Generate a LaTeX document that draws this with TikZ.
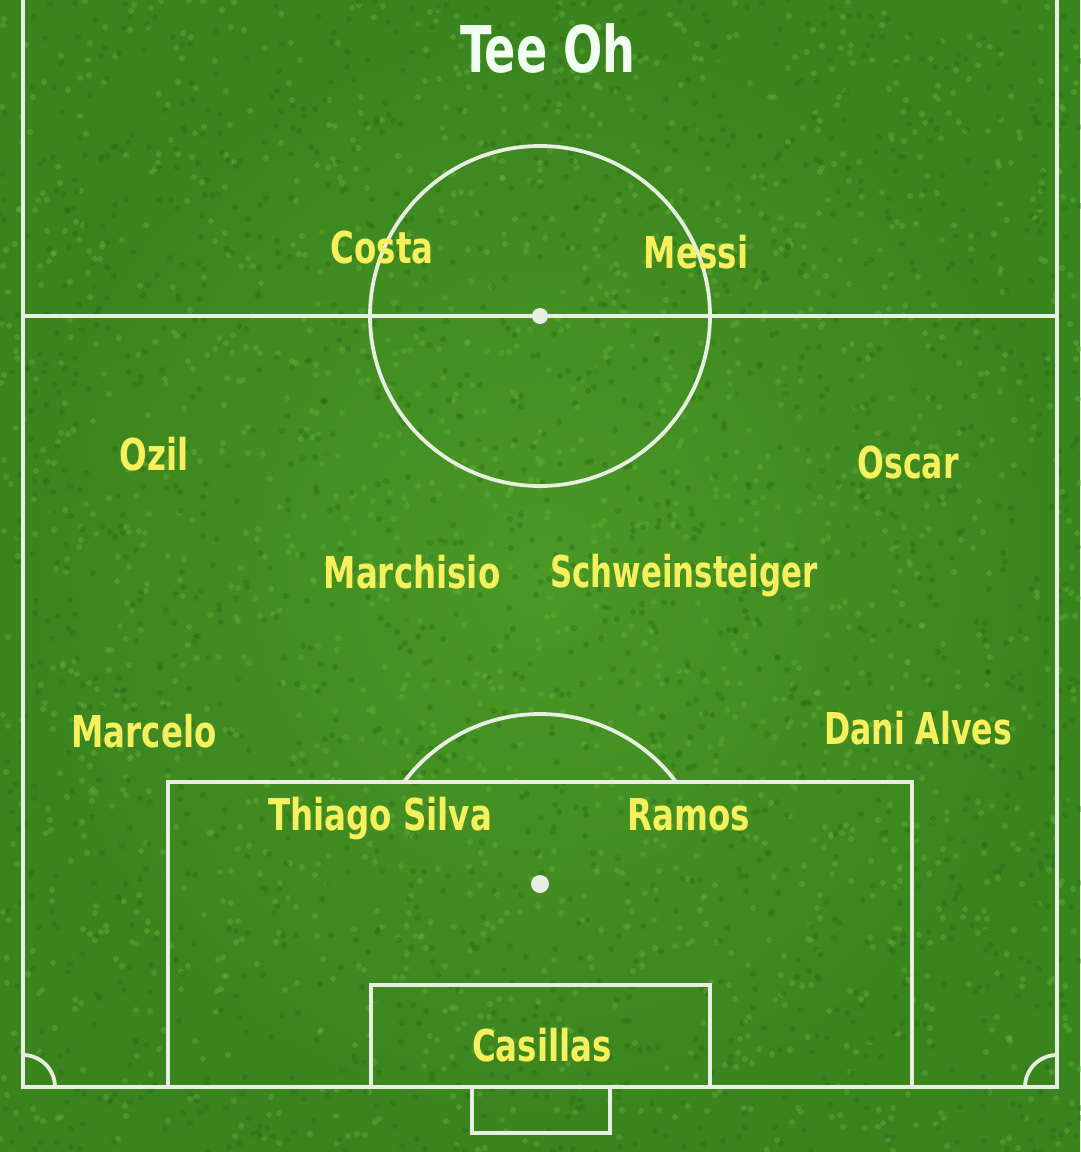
\documentclass[tikz,border=0pt]{standalone}
\usepackage{fontspec}
\setmainfont{DejaVu Sans Condensed}
\definecolor{grass}{RGB}{74,152,38}
\definecolor{grassdark}{RGB}{58,132,30}
\definecolor{grasslight}{RGB}{100,176,56}
\definecolor{grassshadow}{RGB}{38,100,20}
\definecolor{chalk}{RGB}{232,238,226}
\definecolor{yel}{RGB}{246,240,92}
\tikzset{
  line/.style={draw=chalk, line width=2.7pt},
  player/.style={text=yel, font=\bfseries\fontsize{24}{28}\selectfont, inner sep=0pt},
  titlenode/.style={text=white!94!green, font=\bfseries\fontsize{44}{50}\selectfont, inner sep=0pt}
}
\newcommand{\pname}[2][1.07]{\scalebox{#1}[1.3]{#2}}
\begin{document}
\begin{tikzpicture}[x=0.025cm,y=-0.025cm]
\useasboundingbox (0,0) rectangle (1080,1152);
\shade[inner color=grass, outer color=grassdark] (0,0) rectangle (1080,1152);
% grass texture
\pgfmathsetseed{4242}
\foreach \i in {1,...,1800} {
  \pgfmathsetmacro{\px}{random(0,1080)}
  \pgfmathsetmacro{\py}{random(0,1152)}
  \fill[grasslight, opacity=0.45] (\px,\py) circle[radius=3];
}
\foreach \i in {1,...,1800} {
  \pgfmathsetmacro{\px}{random(0,1080)}
  \pgfmathsetmacro{\py}{random(0,1152)}
  \fill[grassshadow, opacity=0.35] (\px,\py) circle[radius=3];
}
% pitch lines
\draw[line] (23,0) -- (23,1087) -- (1057,1087) -- (1057,0);
\draw[line] (23,316) -- (1057,316);
\draw[line] (540,316) circle[radius=170];
\fill[chalk] (540,316) circle[radius=8];
\draw[line] (168,1087) -- (168,782) -- (912,782) -- (912,1087);
\draw[line] (371,1087) -- (371,985) -- (710,985) -- (710,1087);
\draw[line] (472,1087) -- (472,1133) -- (610,1133) -- (610,1087);
\fill[chalk] (540,884) circle[radius=9];
\begin{scope}
\clip (0,0) rectangle (1080,781);
\draw[line] (540,884) circle[radius=170];
\end{scope}
\begin{scope}
\clip (23,0) rectangle (1057,1087);
\draw[line] (23,1087) circle[radius=32];
\draw[line] (1057,1087) circle[radius=32];
\end{scope}
% texts
\node[titlenode] (title) at (548,49) {\scalebox{0.83}[1.04]{Tee Oh}};
\node[player] (costa) at (382,248) {\pname{Costa}};
\node[player] (messi) at (696,252) {\pname{Messi}};
\node[player] (ozil) at (154,454) {\pname{Ozil}};
\node[player] (oscar) at (908,463) {\pname[1.04]{Oscar}};
\node[player] (marchisio) at (412,572) {\pname{Marchisio}};
\node[player] (schwein) at (684,576) {\pname[1.015]{Schweinsteiger}};
\node[player] (marcelo) at (144,731) {\pname{Marcelo}};
\node[player] (dani) at (918,728) {\pname[1.04]{Dani Alves}};
\node[player] (thiago) at (380,819) {\pname{Thiago Silva}};
\node[player] (ramos) at (689,815) {\pname{Ramos}};
\node[player] (casillas) at (542,1045) {\pname{Casillas}};
\end{tikzpicture}
\end{document}
